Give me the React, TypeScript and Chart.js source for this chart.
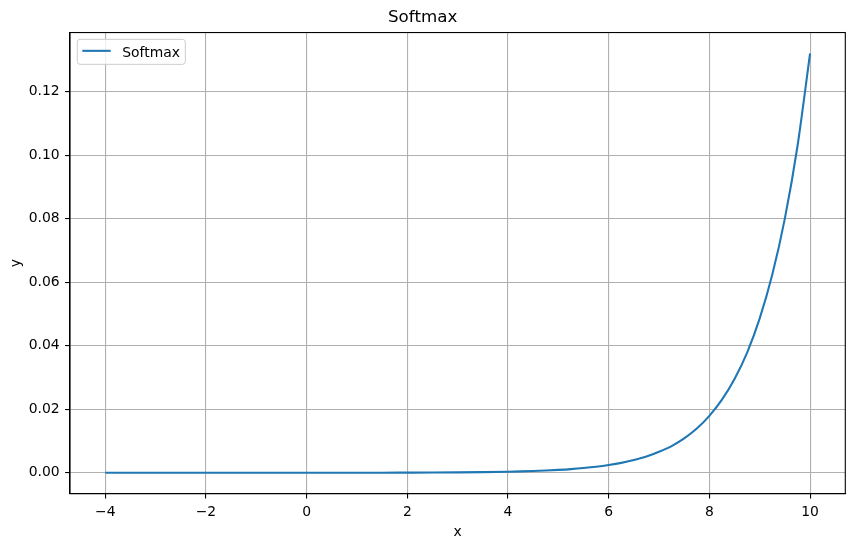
import React, { useEffect, useRef } from "react";
import { Chart, registerables } from "chart.js";

Chart.register(...registerables);

const xValues = [-4, -3.5, -3, -2.5, -2, -1.5, -1, -0.5, 0, 0.5, 1, 1.5, 2, 2.5, 3, 3.5, 4, 4.25, 4.5, 4.75, 5, 5.25, 5.5, 5.75, 6, 6.25, 6.5, 6.75, 7, 7.25, 7.5, 7.75, 8, 8.25, 8.5, 8.75, 9, 9.25, 9.5, 9.75, 10];
const softmaxValues = [0.0, 0.0, 0.0, 0.0, 0.0, 0.0, 0.0, 0.0, 0.0, 0.0, 0.00001, 0.00001, 0.00004, 0.00007, 0.00012, 0.0002, 0.00033, 0.00042, 0.00054, 0.00069, 0.00089, 0.00114, 0.00147, 0.00188, 0.00242, 0.0031, 0.004, 0.0051, 0.0066, 0.0084, 0.0108, 0.0139, 0.0179, 0.023, 0.0295, 0.0378, 0.0486, 0.0624, 0.0801, 0.1028, 0.132];
const xTickValues = [-4, -2, 0, 2, 4, 6, 8, 10];
const yTickValues = [0.0, 0.02, 0.04, 0.06, 0.08, 0.1, 0.12];
const seriesLabel = "Softmax";
const chartTitle = "Softmax";
const xAxisLabel = "x";
const yAxisLabel = "y";

const FONT = "'DejaVu Sans', sans-serif";
const LINE_COLOR = "#1f77b4";

const framePlugin = {
  id: "frameAndLegend",
  afterDraw(chart: any) {
    const { ctx, chartArea } = chart;
    ctx.save();
    ctx.strokeStyle = "#000";
    ctx.lineWidth = 1.1;
    ctx.strokeRect(chartArea.left, chartArea.top, chartArea.right - chartArea.left, chartArea.bottom - chartArea.top);

    // legend box
    const bx = chartArea.left + 7.3;
    const by = chartArea.top + 6.8;
    const bw = 108;
    const bh = 25;
    const r = 2.8;
    ctx.beginPath();
    ctx.moveTo(bx + r, by);
    ctx.lineTo(bx + bw - r, by);
    ctx.quadraticCurveTo(bx + bw, by, bx + bw, by + r);
    ctx.lineTo(bx + bw, by + bh - r);
    ctx.quadraticCurveTo(bx + bw, by + bh, bx + bw - r, by + bh);
    ctx.lineTo(bx + r, by + bh);
    ctx.quadraticCurveTo(bx, by + bh, bx, by + bh - r);
    ctx.lineTo(bx, by + r);
    ctx.quadraticCurveTo(bx, by, bx + r, by);
    ctx.closePath();
    ctx.fillStyle = "rgba(255,255,255,0.8)";
    ctx.fill();
    ctx.strokeStyle = "#cccccc";
    ctx.lineWidth = 1;
    ctx.stroke();

    ctx.beginPath();
    ctx.strokeStyle = LINE_COLOR;
    ctx.lineWidth = 2.08;
    ctx.moveTo(bx + 5, by + 11.5);
    ctx.lineTo(bx + 33.4, by + 11.5);
    ctx.stroke();

    ctx.fillStyle = "#000";
    ctx.font = `13.9px ${FONT}`;
    ctx.textBaseline = "alphabetic";
    ctx.textAlign = "left";
    ctx.fillText(chart.data.datasets[0].label, bx + 45, by + 17.5);
    ctx.restore();
  },
};

const fmtX = (v: number) => (v < 0 ? "\u2212" + Math.abs(v) : String(v));

export default function App() {
  const ref = useRef<HTMLCanvasElement | null>(null);
  useEffect(() => {
    if (!ref.current) return;
    const chart = new Chart(ref.current, {
      type: "line",
      data: {
        datasets: [
          {
            label: seriesLabel,
            data: xValues.map((x, i) => ({ x, y: softmaxValues[i] })),
            borderColor: LINE_COLOR,
            backgroundColor: LINE_COLOR,
            borderWidth: 2.08,
            pointRadius: 0,
            cubicInterpolationMode: "monotone",
            fill: false,
          },
        ],
      },
      options: {
        responsive: false,
        animation: false,
        devicePixelRatio: 1,
        layout: { padding: { left: 0, right: 9.7, top: 0, bottom: 0 } },
        plugins: {
          legend: { display: false },
          tooltip: { enabled: false },
          title: {
            display: true,
            text: chartTitle,
            color: "#000",
            font: { family: FONT, size: 16.7, weight: "normal" },
            padding: { top: 8, bottom: 4.5 },
          },
        },
        scales: {
          x: {
            type: "linear",
            min: -4.7,
            max: 10.7,
            afterBuildTicks: (scale: any) => {
              scale.ticks = xTickValues.map((v) => ({ value: v }));
            },
            afterFit: (scale: any) => {
              scale.height = 53.3;
            },
            ticks: {
              color: "#000",
              font: { family: FONT, size: 13.9 },
              padding: 5,
              maxRotation: 0,
              autoSkip: false,
              callback: (v: any) => fmtX(Number(v)),
            },
            grid: { color: "#b0b0b0", lineWidth: 1.1, tickColor: "#000", tickLength: 4.9, drawTicks: true },
            border: { display: true, color: "#000", width: 1.1 },
            title: {
              display: true,
              text: xAxisLabel,
              color: "#000",
              font: { family: FONT, size: 13.9 },
              padding: { top: 0, bottom: 6 },
            },
          },
          y: {
            type: "linear",
            min: -0.0066,
            max: 0.1386,
            afterBuildTicks: (scale: any) => {
              scale.ticks = yTickValues.map((v) => ({ value: v }));
            },
            afterFit: (scale: any) => {
              scale.width = 70;
            },
            ticks: {
              color: "#000",
              font: { family: FONT, size: 13.9 },
              padding: 5.5,
              autoSkip: false,
              callback: (v: any) => Number(v).toFixed(2),
            },
            grid: { color: "#b0b0b0", lineWidth: 1.1, tickColor: "#000", tickLength: 4.9, drawTicks: true },
            border: { display: true, color: "#000", width: 1.1 },
            title: {
              display: true,
              text: yAxisLabel,
              color: "#000",
              font: { family: FONT, size: 13.9 },
              padding: { top: 8, bottom: 0 },
            },
          },
        },
      },
      plugins: [framePlugin],
    } as any);
    return () => chart.destroy();
  }, []);
  return (
    <div style={{ position: "fixed", left: 0, top: 0, width: 855, height: 547, background: "#fff" }}>
      <canvas ref={ref} width={855} height={547} style={{ width: 855, height: 547, display: "block" }} />
    </div>
  );
}
